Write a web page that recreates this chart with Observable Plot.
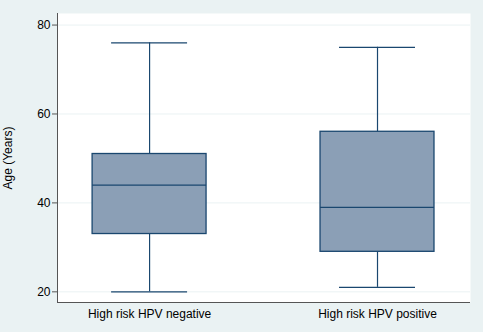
<!DOCTYPE html>
<html>
<head>
<meta charset="utf-8">
<script src="https://cdn.jsdelivr.net/npm/d3@7"></script>
<script src="https://cdn.jsdelivr.net/npm/@observablehq/plot@0.6"></script>
<style>
  html, body { margin: 0; padding: 0; background: #eaf2f3; }
  #chart { width: 483px; height: 332px; }
</style>
</head>
<body>
<div id="chart"></div>
<script>
// Data
const groups = ["High risk HPV negative", "High risk HPV positive"];
const positions = [1, 2];
const lowerWhisker = [20, 21];
const q1 = [33, 29];
const median = [44, 39];
const q3 = [51, 56];
const upperWhisker = [76, 75];
const yTicks = [20, 40, 60, 80];
const yTitle = "Age (Years)";

const data = groups.map((g, i) => ({
  g, x: positions[i],
  lw: lowerWhisker[i], q1: q1[i], med: median[i], q3: q3[i], uw: upperWhisker[i]
}));

const navy = "#1a476f";
const fill = "#8b9fb6";
const xDomain = [0.596, 2.408];
const yDomain = [17.6, 82.6];

const chart = Plot.plot({
  width: 483,
  height: 332,
  marginLeft: 57,
  marginRight: 13,
  marginTop: 13,
  marginBottom: 30,
  style: { background: "#eaf2f3", fontFamily: "'Liberation Sans', Arial, sans-serif", fontSize: "12px", color: "#000" },
  x: { domain: xDomain },
  y: { domain: yDomain },
  marks: [
    Plot.frame({ fill: "white", stroke: null }),
    Plot.gridY(yTicks, { stroke: "#eaf2f3", strokeOpacity: 1, strokeWidth: 1 }),
    Plot.ruleX(data, { x: "x", y1: "lw", y2: "q1", stroke: navy, strokeWidth: 1.2 }),
    Plot.ruleX(data, { x: "x", y1: "q3", y2: "uw", stroke: navy, strokeWidth: 1.2 }),
    Plot.ruleY(data, { y: "lw", x1: d => d.x - 1/6, x2: d => d.x + 1/6, stroke: navy, strokeWidth: 1.2 }),
    Plot.ruleY(data, { y: "uw", x1: d => d.x - 1/6, x2: d => d.x + 1/6, stroke: navy, strokeWidth: 1.2 }),
    Plot.rect(data, { x1: d => d.x - 0.25, x2: d => d.x + 0.25, y1: "q1", y2: "q3", fill: fill, stroke: navy, strokeWidth: 1.3 }),
    Plot.ruleY(data, { y: "med", x1: d => d.x - 0.25, x2: d => d.x + 0.25, stroke: navy, strokeWidth: 1.3 }),
    Plot.ruleX([xDomain[0]], { stroke: "#555", strokeWidth: 1 }),
    Plot.ruleY([yDomain[0]], { stroke: "#555", strokeWidth: 1 }),
    Plot.axisY(yTicks, {
      tickSize: 5, tickPadding: 2, stroke: "#555", fill: "#000",
      label: null,
      tickFormat: d => d
    }),
    Plot.text([yTitle], {
      frameAnchor: "left", dx: -49, rotate: -90,
      textAnchor: "middle", lineAnchor: "middle", fill: "#000"
    }),
    Plot.axisX(positions, {
      tickSize: 0, tickPadding: 7, fill: "#000",
      tickFormat: (d, i) => groups[i],
      label: null
    })
  ]
});
document.getElementById("chart").appendChild(chart);
</script>
</body>
</html>
